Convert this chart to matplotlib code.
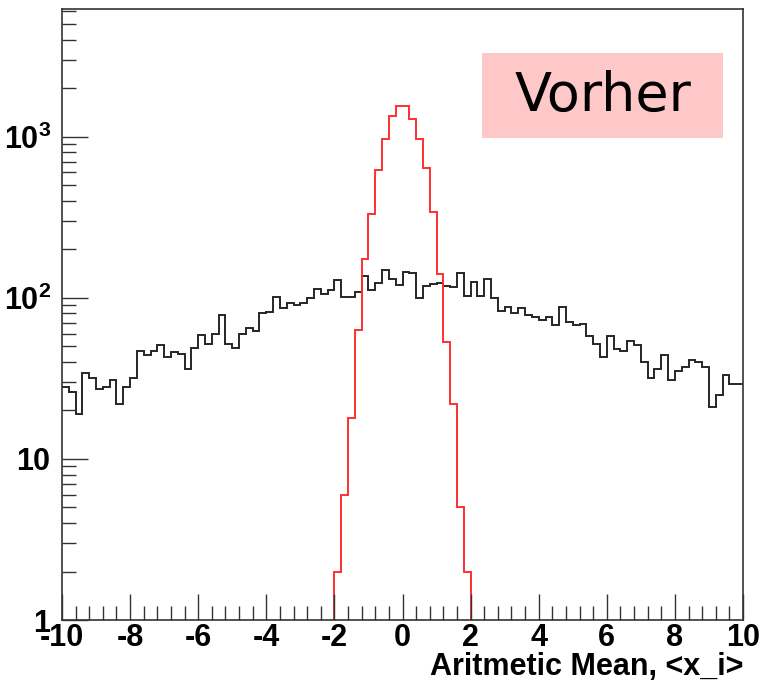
import numpy as np
import matplotlib.pyplot as plt
from matplotlib.patches import Rectangle
from matplotlib.ticker import FixedLocator, NullFormatter

plt.rcParams['mathtext.fontset'] = 'custom'
plt.rcParams['mathtext.bf'] = 'Liberation Sans:bold'
plt.rcParams['mathtext.rm'] = 'Liberation Sans:bold'

# black histogram: 100 bins of 0.2 from -10 to 10
edges_all = np.linspace(-10, 10, 101)
counts_all = [28, 26, 19, 34, 32, 27, 28, 31, 22, 28,
              32, 47, 44, 47, 51, 43, 46, 45, 36, 49,
              59, 52, 60, 78, 52, 49, 60, 65, 62, 80,
              82, 101, 86, 93, 90, 93, 99, 113, 106, 112,
              129, 101, 101, 109, 136, 111, 124, 148, 131, 120,
              145, 142, 100, 118, 122, 123, 119, 116, 142, 102,
              126, 102, 131, 99, 83, 88, 81, 86, 78, 76,
              73, 76, 68, 88, 71, 68, 69, 58, 52, 43,
              58, 48, 47, 54, 51, 40, 32, 36, 44, 31,
              35, 37, 41, 40, 37, 21, 25, 33, 29, 29]

# red histogram: 20 bins of 0.2 from -2 to 2
edges_mean = np.linspace(-2, 2, 21)
counts_mean = [2, 6, 18, 63, 175, 330, 620, 970, 1350, 1560,
               1540, 1290, 970, 640, 340, 140, 53, 22, 5, 2]

x_ticks = [-10, -8, -6, -4, -2, 0, 2, 4, 6, 8, 10]
y_ticks = [1, 10, 100, 1000]
y_labels = [r'$\mathbf{1}$', r'$\mathbf{10}$', r'$\mathbf{10^{2}}$', r'$\mathbf{10^{3}}$']

fig = plt.figure(figsize=(7.63, 6.81), dpi=100)
ax = fig.add_axes([62 / 763, 61 / 681, 681 / 763, 611 / 681])

ax.stairs(counts_all, edges_all, baseline=None, color='#262626', lw=1.4)
ax.stairs(counts_mean, edges_mean, baseline=1, color='#ff3030', lw=1.4)

ax.set_yscale('log')
ax.set_xlim(-10, 10)
ax.set_ylim(1, 6200)

ax.set_xticks(x_ticks)
ax.set_xticklabels([str(t) for t in x_ticks], fontsize=22, fontweight='bold',
                   family='Liberation Sans')
ax.xaxis.set_minor_locator(FixedLocator(np.arange(-10, 10.01, 0.4)))
ax.set_yticks(y_ticks)
ax.set_yticklabels(y_labels, fontsize=22)
minors = [m * 10 ** d for d in range(0, 4) for m in range(2, 10)]
ax.yaxis.set_minor_locator(FixedLocator(minors))
ax.yaxis.set_minor_formatter(NullFormatter())

ax.tick_params(which='major', direction='in', length=19, width=1, color='#333333', pad=2)
ax.tick_params(which='minor', direction='in', length=10, width=1, color='#333333')
ax.tick_params(axis='y', pad=8)
for s in ax.spines.values():
    s.set_color('#333333')
    s.set_linewidth(1.2)

fig.text(743 / 763, 1 - 675 / 681, 'Aritmetic Mean, <x_i>', ha='right', va='baseline',
         fontsize=22, fontweight='bold', family='Liberation Sans')

ax.add_patch(Rectangle((0.617, 0.789), 0.354, 0.139, transform=ax.transAxes,
                       facecolor='#ffc8c8', edgecolor='none', zorder=3))
ax.text(0.795, 0.858, 'Vorher', transform=ax.transAxes, ha='center', va='center',
        fontsize=39, family='DejaVu Sans', zorder=4)

fig.savefig('out.png', dpi=100)
